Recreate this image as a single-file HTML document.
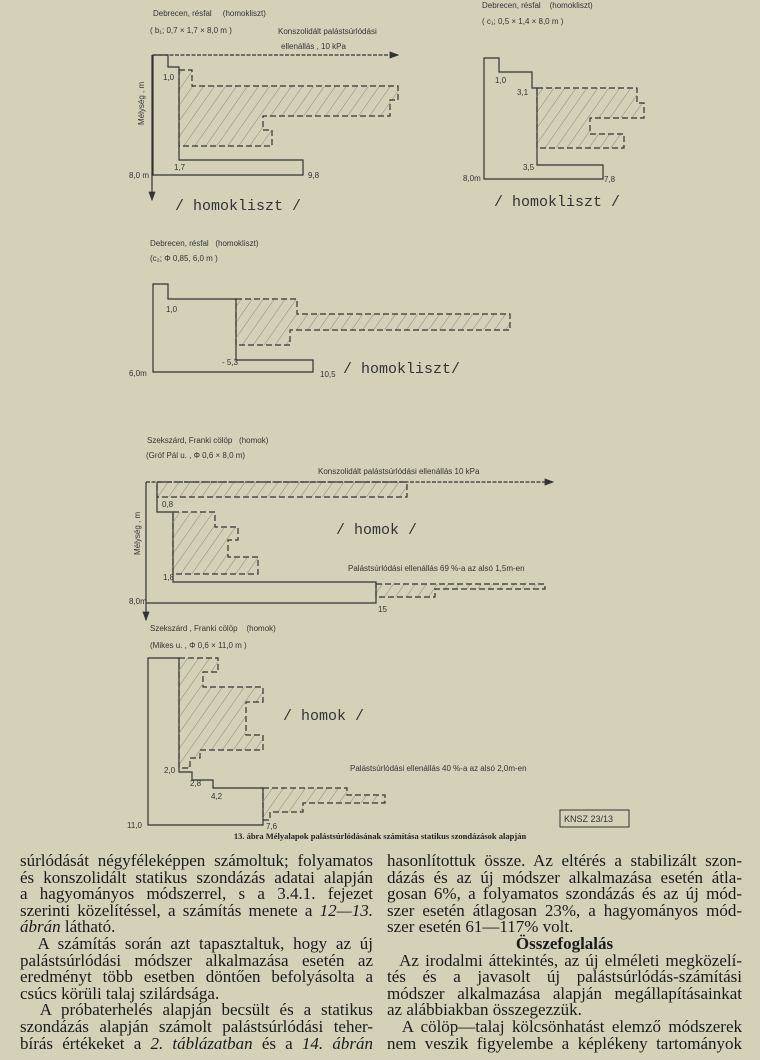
<!DOCTYPE html>
<html><head><meta charset="utf-8">
<style>
html,body{margin:0;padding:0;background:#d5d1b9;}
body{width:760px;height:1060px;position:relative;overflow:hidden;}
svg{position:absolute;left:0;top:0;}
.col{position:absolute;font-family:"Liberation Serif",serif;font-size:17px;color:#1a1a1a;}
.l{height:16.6px;line-height:16.6px;text-align:justify;text-align-last:justify;white-space:nowrap;}
.l.e{text-align-last:left;}
.cap{position:absolute;left:0;width:760px;top:831px;text-align:center;font-family:"Liberation Serif",serif;font-weight:bold;font-size:8.5px;color:#222;}
</style></head><body>
<svg width="760" height="830" viewBox="0 0 760 830" font-family="Liberation Sans, sans-serif" font-size="8" fill="#333">
<defs>
<pattern id="h" patternUnits="userSpaceOnUse" width="9" height="9" patternTransform="rotate(35)">
<line x1="0" y1="0" x2="0" y2="9" stroke="#8a877a" stroke-width="1"/>
</pattern>
<marker id="a" markerWidth="8" markerHeight="6" refX="7" refY="3" orient="auto"><path d="M0,0 L8,3 L0,6 z" fill="#333"/></marker>
</defs>
<g stroke="#333" stroke-width="1.2" fill="none">
<line x1="153" y1="55" x2="398" y2="55" stroke-dasharray="4,1.5" marker-end="url(#a)"/>
<line x1="152" y1="55" x2="152" y2="200" marker-end="url(#a)"/>
<path d="M153,55 H168 V67 H179 V160 H303 V175 H153 Z"/>
<path d="M179,70 H192 V86 H398 V100 H390 V116 H263 V130 H272 V146 H179 Z" fill="url(#h)" stroke-dasharray="6,3"/>
<path d="M484,58 H499 V72 H532 V88 H537 V165 H603 V179 H484 Z"/>
<path d="M537,88 H637 V103 H644 V118 H590 V134 H624 V148 H537 Z" fill="url(#h)" stroke-dasharray="6,3"/>
<path d="M153,284 H168 V299 H236 V360 H313 V372 H153 Z"/>
<path d="M236,299 H297 V314 H510 V330 H290 V345 H236 Z" fill="url(#h)" stroke-dasharray="6,3"/>
<line x1="146" y1="482" x2="553" y2="482" stroke-dasharray="4,1.5" marker-end="url(#a)"/>
<line x1="146" y1="482" x2="146" y2="620" marker-end="url(#a)"/>
<path d="M157,482 V512 H173 V582 H376 V603 H146"/>
<path d="M157,482 H407 V497 H157 Z" fill="url(#h)" stroke-dasharray="6,3"/>
<path d="M173,512 H215 V527 H238 V540 H228 V557 H258 V574 H173 Z" fill="url(#h)" stroke-dasharray="6,3"/>
<path d="M376,584 H545 V589 H435 V597 H376 Z" fill="url(#h)" stroke-dasharray="6,3"/>
<path d="M148,658 H179 V772 H192 V780 H213 V788 H263 V825 H148 Z"/>
<path d="M179,658 H218 V672 H203 V687 H263 V702 H246 V735 H263 V750 H200 V758 H190 V768 H179 Z" fill="url(#h)" stroke-dasharray="6,3"/>
<path d="M263,788 H347 V795 H385 V803 H303 V812 H270 V820 H263 Z" fill="url(#h)" stroke-dasharray="6,3"/>
<rect x="560" y="810" width="69" height="17" stroke-width="1"/>
</g>
<g>
<text x="153" y="16">Debrecen, résfal &#160;&#160;&#160;&#160;(homokliszt)</text>
<text x="150" y="33">( b₁;  0,7 × 1,7 × 8,0 m )</text>
<text x="278" y="34">Konszolidált palástsúrlódási</text>
<text x="281" y="49">ellenállás , 10 kPa</text>
<text x="163" y="80">1,0</text>
<text x="174" y="170">1,7</text>
<text x="308" y="178">9,8</text>
<text x="129" y="178">8,0 m</text>
<text transform="translate(144,125) rotate(-90)">Mélység , m</text>
<text x="175" y="210" font-family="Liberation Mono, monospace" font-size="15">/ homokliszt /</text>

<text x="482" y="8">Debrecen, résfal &#160;&#160;&#160;(homokliszt)</text>
<text x="482" y="24">( c₁;  0,5 × 1,4 × 8,0 m )</text>
<text x="495" y="83">1,0</text>
<text x="517" y="95">3,1</text>
<text x="523" y="170">3,5</text>
<text x="604" y="182">7,8</text>
<text x="463" y="181">8,0m</text>
<text x="494" y="206" font-family="Liberation Mono, monospace" font-size="15">/ homokliszt /</text>

<text x="150" y="246">Debrecen, résfal &#160;&#160;(homokliszt)</text>
<text x="150" y="261">(c₂;  Φ 0,85,  6,0 m )</text>
<text x="166" y="312">1,0</text>
<text x="222" y="365">- 5,3</text>
<text x="320" y="377">10,5</text>
<text x="129" y="376">6,0m</text>
<text x="343" y="373" font-family="Liberation Mono, monospace" font-size="15">/ homokliszt/</text>

<text x="147" y="443">Szekszárd, Franki cölöp &#160;&#160;(homok)</text>
<text x="146" y="458">(Gróf Pál u. ,  Φ 0,6 × 8,0 m)</text>
<text x="318" y="474">Konszolidált palástsúrlódási ellenállás  10 kPa</text>
<text x="162" y="507">0,8</text>
<text x="163" y="580">1,8</text>
<text x="129" y="604">8,0m</text>
<text x="378" y="612">15</text>
<text transform="translate(140,555) rotate(-90)">Mélység , m</text>
<text x="336" y="534" font-family="Liberation Mono, monospace" font-size="15">/ homok /</text>
<text x="348" y="571">Palástsúrlódási ellenállás  69 %-a  az alsó 1,5m-en</text>

<text x="150" y="631">Szekszárd , Franki cölöp &#160;&#160;&#160;(homok)</text>
<text x="150" y="648">(Mikes  u. ,  Φ 0,6 × 11,0 m )</text>
<text x="164" y="773">2,0</text>
<text x="190" y="786">2,8</text>
<text x="211" y="799">4,2</text>
<text x="266" y="829">7,6</text>
<text x="127" y="828">11,0</text>
<text x="283" y="720" font-family="Liberation Mono, monospace" font-size="15">/ homok /</text>
<text x="350" y="771">Palástsúrlódási ellenállás 40 %-a  az alsó  2,0m-en</text>
<text x="564" y="822" font-size="9">KNSZ 23/13</text>
</g>
</svg>
<div class="cap">13. ábra Mélyalapok palástsúrlódásának számítása statikus szondázások alapján</div>
<div class="col" style="left:20px;top:853px;width:353px;">
<div class="l">súrlódását négyféleképpen számoltuk; folyamatos</div>
<div class="l">és konszolidált statikus szondázás adatai alapján</div>
<div class="l">a hagyományos módszerrel, s a 3.4.1. fejezet</div>
<div class="l">szerinti közelítéssel, a számítás menete a <i>12—13.</i></div>
<div class="l e"><i>ábrán</i> látható.</div>
<div class="l">&#160;&#160;A számítás során azt tapasztaltuk, hogy az új</div>
<div class="l">palástsúrlódási módszer alkalmazása esetén az</div>
<div class="l">eredményt több esetben döntően befolyásolta a</div>
<div class="l e">csúcs körüli talaj szilárdsága.</div>
<div class="l">&#160;&#160;A próbaterhelés alapján becsült és a statikus</div>
<div class="l">szondázás alapján számolt palástsúrlódási teher-</div>
<div class="l">bírás értékeket a <i>2. táblázatban</i> és a <i>14. ábrán</i></div>
</div>
<div class="col" style="left:387px;top:853px;width:355px;">
<div class="l">hasonlítottuk össze. Az eltérés a stabilizált szon-</div>
<div class="l">dázás és az új módszer alkalmazása esetén átla-</div>
<div class="l">gosan 6%, a folyamatos szondázás és az új mód-</div>
<div class="l">szer esetén átlagosan 23%, a hagyományos mód-</div>
<div class="l e">szer esetén 61—117% volt.</div>
<div class="l e" style="text-align:center;text-align-last:center;font-weight:bold;">Összefoglalás</div>
<div class="l">&#160;&#160;Az irodalmi áttekintés, az új elméleti megközelí-</div>
<div class="l">tés és a javasolt új palástsúrlódás-számítási</div>
<div class="l">módszer alkalmazása alapján megállapításainkat</div>
<div class="l e">az alábbiakban összegezzük.</div>
<div class="l">&#160;&#160;A cölöp—talaj kölcsönhatást elemző módszerek</div>
<div class="l">nem veszik figyelembe a képlékeny tartományok</div>
</div>
</body></html>
